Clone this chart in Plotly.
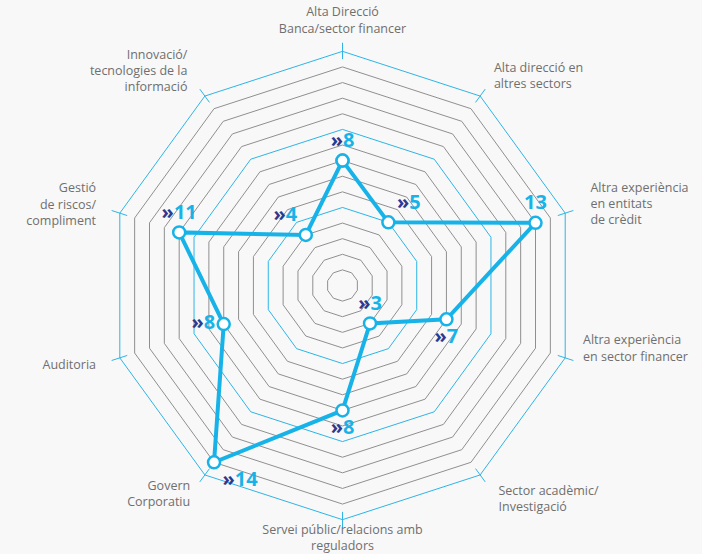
import plotly.graph_objects as go

# Profile axes, clockwise from the top
categories = [
    "Alta Direcció Banca/sector financer",
    "Alta direcció en altres sectors",
    "Altra experiència en entitats de crèdit",
    "Altra experiència en sector financer",
    "Sector acadèmic/Investigació",
    "Servei públic/relacions amb reguladors",
    "Govern Corporatiu",
    "Auditoria",
    "Gestió de riscos/compliment",
    "Innovació/tecnologies de la informació",
]
axis_labels = [
    "Alta Direcció<br>Banca/sector financer",
    "Alta direcció en<br>altres sectors",
    "Altra experiència<br>en entitats<br>de crèdit",
    "Altra experiència<br>en sector financer",
    "Sector acadèmic/<br>Investigació",
    "Servei públic/relacions amb<br>reguladors",
    "Govern<br>Corporatiu",
    "Auditoria",
    "Gestió<br>de riscos/<br>compliment",
    "Innovació/<br>tecnologies de la<br>informació",
]
values = [8, 5, 13, 7, 3, 8, 14, 8, 11, 4]
show_chevron = [True, True, False, True, True, True, True, True, True, True]

R_MAX = 15            # outer ring of the scale
R_VIEW = 17.2         # radial extent of the subplot (room for the labels)
ring_levels = list(range(1, R_MAX + 1))
highlight_rings = [5, 10, 15]

# label placement
axis_label_r = [16.0, 16.5, 16.7, 16.2, 17.0, 15.3, 16.6, 16.6, 16.6, 16.9]
axis_label_pos = ["top center", "middle right", "middle right", "top right",
                  "middle right", "bottom center", "middle left", "middle left",
                  "middle left", "middle left"]
value_label_pos = ["top center", "top right", "top center", "bottom center",
                   "top center", "bottom center", "bottom right", "middle left",
                   "top center", "top left"]

CYAN = "#17b3e8"
NAVY = "#2b3a8f"
RING_BLUE = "#2eb4e6"
GRID_GRAY = "#8f8f8f"
BG = "#f8f8f8"
LABEL_GRAY = "#6f6f6f"


def ring_path(levels):
    rr, tt = [], []
    for lv in levels:
        rr += [lv] * (len(categories) + 1) + [None]
        tt += categories + categories[:1] + [None]
    return rr, tt


fig = go.Figure()

# gray scale rings
gr, gt = ring_path([lv for lv in ring_levels if lv not in highlight_rings])
fig.add_trace(go.Scatterpolar(
    r=gr, theta=gt, mode="lines", connectgaps=False,
    line=dict(color=GRID_GRAY, width=1),
    hoverinfo="skip", showlegend=False,
))

# blue highlight rings
br, bt = ring_path(highlight_rings)
fig.add_trace(go.Scatterpolar(
    r=br, theta=bt, mode="lines", connectgaps=False,
    line=dict(color=RING_BLUE, width=1),
    hoverinfo="skip", showlegend=False,
))

# short radial ticks across the outer vertices
tick_r, tick_t = [], []
for c in categories:
    tick_r += [R_MAX - 0.5, R_MAX + 0.55, None]
    tick_t += [c, c, None]
fig.add_trace(go.Scatterpolar(
    r=tick_r, theta=tick_t, mode="lines",
    line=dict(color=RING_BLUE, width=1),
    connectgaps=False, hoverinfo="skip", showlegend=False,
))

# profile line with markers
fig.add_trace(go.Scatterpolar(
    r=values + values[:1],
    theta=categories + categories[:1],
    mode="lines+markers",
    line=dict(color=CYAN, width=4),
    marker=dict(size=12, color="white", line=dict(color=CYAN, width=2.5)),
    hoverinfo="skip", showlegend=False,
))

# value labels (invisible markers keep the text clear of the points)
value_text = [
    (f"<span style='color:{NAVY}'>»</span>{v}" if ch else f"{v}")
    for v, ch in zip(values, show_chevron)
]
fig.add_trace(go.Scatterpolar(
    r=values, theta=categories, mode="markers+text",
    marker=dict(size=12, opacity=0),
    text=value_text, textposition=value_label_pos,
    textfont=dict(family="Open Sans", size=20, color=CYAN, weight="bold"),
    hoverinfo="skip", showlegend=False,
))

# axis category labels
fig.add_trace(go.Scatterpolar(
    r=axis_label_r, theta=categories, mode="text",
    text=axis_labels, textposition=axis_label_pos,
    textfont=dict(family="Open Sans", size=12.5, color=LABEL_GRAY),
    hoverinfo="skip", showlegend=False,
))

fig.update_layout(
    width=702, height=554,
    margin=dict(l=74, r=91, t=17, b=0),
    paper_bgcolor=BG, plot_bgcolor=BG,
    showlegend=False,
    polar=dict(
        bgcolor=BG,
        gridshape="linear",
        domain=dict(x=[0, 1], y=[0, 1]),
        radialaxis=dict(
            range=[0, R_VIEW], showgrid=False, showticklabels=False,
            ticks="", showline=False,
        ),
        angularaxis=dict(
            type="category", categoryarray=categories, categoryorder="array",
            rotation=90, direction="clockwise",
            showgrid=False, showticklabels=False, ticks="", showline=False,
        ),
    ),
)

fig.write_html("out.html")
